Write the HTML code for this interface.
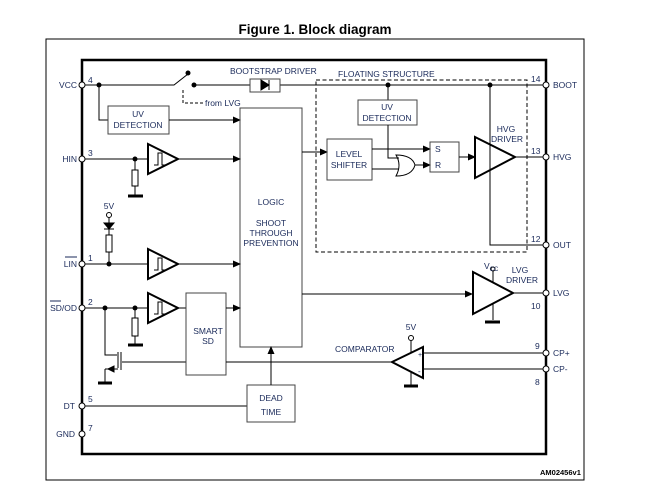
<!DOCTYPE html>
<html><head><style>body{margin:0;background:#fff}svg{display:block}text{font-family:"Liberation Sans",Arial,sans-serif;font-size:8.5px;fill:#1a2a5a}</style></head><body>
<svg width="648" height="496" viewBox="0 0 648 496" xmlns="http://www.w3.org/2000/svg">
<defs><marker id="a" markerWidth="8" markerHeight="8" refX="7" refY="4" orient="auto" markerUnits="userSpaceOnUse"><path d="M0,0.5 L8,4 L0,7.5z" fill="#000"/></marker></defs>
<text x="315" y="34" text-anchor="middle" style="font-size:13.5px;font-weight:bold;fill:#000">Figure 1. Block diagram</text>
<rect x="46" y="39" width="538" height="441" fill="none" stroke="#000" stroke-width="1"/>
<g fill="none" stroke="#000" stroke-width="1">
<rect x="82" y="60" width="464" height="394" stroke-width="2.5"/>
<path d="M82,85 H174 L188,74 M194,85 H250 M280,85 H546"/>
<rect x="250" y="79" width="30" height="13" stroke="#444"/>
<path d="M183,90 V103 H204" stroke-dasharray="3,2"/>
<path d="M99,85 V120 H108"/>
<rect x="108" y="106" width="61" height="28" stroke="#444"/>
<path d="M169,120 H240" marker-end="url(#a)"/>
<rect x="240" y="108" width="62" height="239" stroke="#444"/>
<path d="M82,159 H147 M135,159 V170 M135,186 V196"/>
<path d="M178,159 H240" marker-end="url(#a)"/>
<rect x="132" y="170" width="6" height="16"/>
<path d="M128,196 H143" stroke-width="3"/>
<path d="M148,144 L178,159 L148,174z" stroke-width="2"/>
<path d="M154,165 h4 v-12 h4 v12 h4"/>
<path d="M109,218 V235 M109,252 V264 M82,264 H147"/>
<rect x="106" y="235" width="6" height="17"/>
<path d="M104,223 h10 l-5,6z" fill="#000"/><path d="M104,229 h10"/>
<path d="M178,264 H240" marker-end="url(#a)"/>
<path d="M148,249 L178,264 L148,279z" stroke-width="2"/>
<path d="M154,270 h4 v-12 h4 v12 h4"/>
<path d="M82,308 H147 M135,308 V318 M135,336 V345 M105,308 V355 H117"/>
<rect x="132" y="318" width="6" height="18"/>
<path d="M128,345 H143 M98,383 H112" stroke-width="3"/>
<path d="M118,352 V368 M121,352 V370 M105,369 V383 M105,369 H118"/>
<path d="M108,369 l6,-3 v6z" fill="#000"/>
<path d="M122,362 H186"/>
<path d="M148,293 L178,308 L148,323z" stroke-width="2"/>
<path d="M154,314 h4 v-12 h4 v12 h4"/>
<path d="M178,308 H186"/>
<rect x="186" y="293" width="40" height="82" stroke="#444"/>
<path d="M226,308 H240" marker-end="url(#a)"/>
<path d="M226,362 H392"/>
<path d="M82,406 H247"/>
<rect x="247" y="385" width="48" height="37" stroke="#444"/>
<path d="M271,385 V347" marker-end="url(#a)"/>
<rect x="316" y="80" width="211" height="172" stroke-dasharray="4,2.5"/>
<path d="M302,152 H327" marker-end="url(#a)"/>
<rect x="327" y="139" width="45" height="41" stroke="#444"/>
<path d="M388,85 V100"/>
<rect x="358" y="100" width="59" height="25" stroke="#444"/>
<path d="M388,125 V158 H399 M372,169 H399"/>
<path d="M372,149 H430" marker-end="url(#a)"/>
<path d="M396,155 Q412,155 415,165 Q412,176 396,176 Q402,165 396,155z"/>
<path d="M415,165 H430" marker-end="url(#a)"/>
<rect x="430" y="142" width="29" height="30" stroke="#444"/>
<path d="M459,157 H475" marker-end="url(#a)"/>
<path d="M475,137 L515,157 L475,178z" stroke-width="2"/>
<path d="M515,157 H546 M490,85 V245 H546"/>
<path d="M302,294 H472" marker-end="url(#a)"/>
<path d="M473,272 L513,293 L473,314z" stroke-width="2"/>
<path d="M513,293 H546 M493,271 V282 M493,304 V320"/>
<path d="M485,322 H500" stroke-width="3"/>
<path d="M423,347 L392,362 L423,378z" stroke-width="2"/>
<path d="M411,341 V352 M411,372 V386 M423,353 H546 M423,369 H546"/>
<path d="M404,386 H418" stroke-width="3"/>
</g>
<g fill="#fff" stroke="#000" stroke-width="1">
<circle cx="82" cy="85" r="3"/><circle cx="82" cy="159" r="3"/><circle cx="82" cy="264" r="3"/><circle cx="82" cy="308" r="3"/><circle cx="82" cy="406" r="3"/><circle cx="82" cy="434" r="3"/>
<circle cx="546" cy="85" r="3"/><circle cx="546" cy="157" r="3"/><circle cx="546" cy="245" r="3"/><circle cx="546" cy="293" r="3"/><circle cx="546" cy="353" r="3"/><circle cx="546" cy="369" r="3"/>
<circle cx="109" cy="215" r="2.5"/><circle cx="411" cy="338" r="2.5"/><circle cx="493" cy="269" r="2"/>
</g>
<g fill="#000"><circle cx="99" cy="85" r="2.5"/><circle cx="188" cy="73" r="2.5"/><circle cx="194" cy="85" r="2.5"/><circle cx="135" cy="159" r="2.5"/><circle cx="109" cy="264" r="2.5"/><circle cx="105" cy="308" r="2.5"/><circle cx="135" cy="308" r="2.5"/><circle cx="388" cy="85" r="2.5"/><circle cx="490" cy="85" r="2.5"/><path d="M261,80 l8,5 l-8,5z M269,80 v10" stroke="#000"/></g>
<text x="77" y="88" text-anchor="end">VCC</text><text x="88" y="83">4</text>
<text x="77" y="162" text-anchor="end">HIN</text><text x="88" y="156">3</text>
<text x="77" y="267" text-anchor="end">LIN</text><path d="M65,257 H77" stroke="#1a2a5a"/><text x="88" y="261">1</text>
<text x="77" y="311" text-anchor="end">SD/OD</text><path d="M50,301 H61" stroke="#1a2a5a"/><text x="88" y="305">2</text>
<text x="75" y="409" text-anchor="end">DT</text><text x="88" y="402">5</text>
<text x="75" y="437" text-anchor="end">GND</text><text x="88" y="431">7</text>
<text x="230" y="74">BOOTSTRAP DRIVER</text>
<text x="205" y="106">from LVG</text>
<text x="138" y="117" text-anchor="middle">UV</text><text x="138" y="128" text-anchor="middle">DETECTION</text>
<text x="109" y="209" text-anchor="middle">5V</text>
<text x="271" y="205" text-anchor="middle">LOGIC</text>
<text x="271" y="226" text-anchor="middle">SHOOT</text><text x="271" y="236" text-anchor="middle">THROUGH</text><text x="271" y="246" text-anchor="middle">PREVENTION</text>
<text x="208" y="334" text-anchor="middle">SMART</text><text x="208" y="344" text-anchor="middle">SD</text>
<text x="271" y="401" text-anchor="middle">DEAD</text><text x="271" y="415" text-anchor="middle">TIME</text>
<text x="338" y="77">FLOATING STRUCTURE</text>
<text x="387" y="110" text-anchor="middle">UV</text><text x="387" y="121" text-anchor="middle">DETECTION</text>
<text x="349" y="157" text-anchor="middle">LEVEL</text><text x="349" y="168" text-anchor="middle">SHIFTER</text>
<text x="435" y="152">S</text><text x="435" y="168">R</text>
<text x="506" y="132" text-anchor="middle">HVG</text><text x="507" y="142" text-anchor="middle">DRIVER</text>
<text x="520" y="273" text-anchor="middle">LVG</text><text x="522" y="283" text-anchor="middle">DRIVER</text>
<text x="484" y="269">V<tspan style="font-size:6px" dy="2">CC</tspan></text>
<text x="411" y="330" text-anchor="middle">5V</text>
<text x="335" y="352">COMPARATOR</text>
<text x="418" y="357" style="font-size:7px">+</text><text x="418" y="374" style="font-size:8px">-</text>
<text x="553" y="88">BOOT</text><text x="531" y="82">14</text>
<text x="553" y="160">HVG</text><text x="531" y="154">13</text>
<text x="553" y="248">OUT</text><text x="531" y="242">12</text>
<text x="553" y="296">LVG</text><text x="531" y="309">10</text>
<text x="553" y="356">CP+</text><text x="535" y="349">9</text>
<text x="553" y="372">CP-</text><text x="535" y="385">8</text>
<text x="540" y="475" style="font-size:7.5px;font-weight:bold;fill:#000">AM02456v1</text>
</svg>
</body></html>
